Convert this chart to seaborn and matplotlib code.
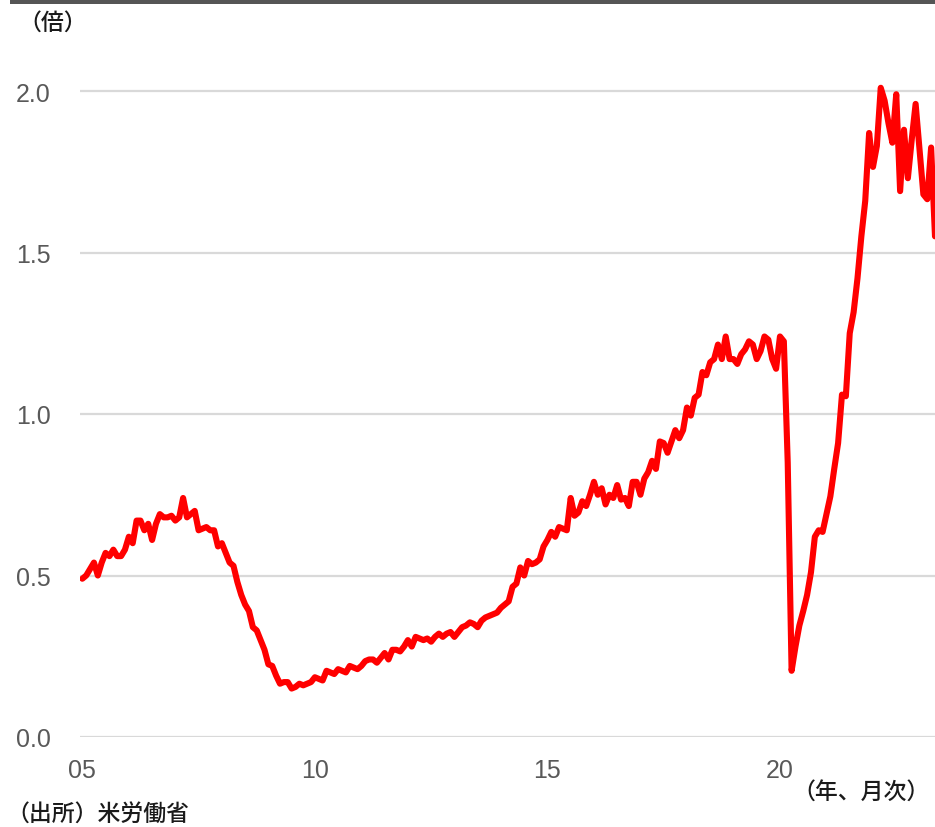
import numpy as np
import pandas as pd
import matplotlib
matplotlib.use("Agg")
import matplotlib.pyplot as plt
import seaborn as sns
from matplotlib.patches import Rectangle

# monthly job openings / unemployed ratio, Jan 2005 - May 2023
ratio_2005 = [0.49, 0.50, 0.52, 0.54, 0.50, 0.54, 0.57, 0.56, 0.58, 0.56, 0.56, 0.58]
ratio_2006 = [0.62, 0.60, 0.67, 0.67, 0.64, 0.66, 0.61, 0.66, 0.69, 0.68, 0.68, 0.685]
ratio_2007 = [0.67, 0.68, 0.74, 0.68, 0.69, 0.70, 0.64, 0.645, 0.65, 0.64, 0.64, 0.59]
ratio_2008 = [0.60, 0.57, 0.54, 0.53, 0.48, 0.44, 0.41, 0.39, 0.34, 0.33, 0.30, 0.27]
ratio_2009 = [0.225, 0.22, 0.19, 0.165, 0.17, 0.17, 0.15, 0.155, 0.165, 0.16, 0.165, 0.17]
ratio_2010 = [0.185, 0.18, 0.175, 0.205, 0.20, 0.195, 0.21, 0.205, 0.20, 0.22, 0.215, 0.21]
ratio_2011 = [0.22, 0.235, 0.24, 0.24, 0.23, 0.245, 0.26, 0.24, 0.27, 0.27, 0.265, 0.28]
ratio_2012 = [0.30, 0.28, 0.31, 0.305, 0.30, 0.305, 0.295, 0.31, 0.32, 0.31, 0.32, 0.325]
ratio_2013 = [0.31, 0.325, 0.34, 0.345, 0.355, 0.35, 0.34, 0.36, 0.37, 0.375, 0.38, 0.385]
ratio_2014 = [0.40, 0.41, 0.42, 0.465, 0.475, 0.525, 0.50, 0.545, 0.535, 0.54, 0.55, 0.59]
ratio_2015 = [0.61, 0.635, 0.62, 0.65, 0.645, 0.64, 0.74, 0.685, 0.695, 0.73, 0.715, 0.75]
ratio_2016 = [0.79, 0.75, 0.77, 0.72, 0.75, 0.74, 0.78, 0.735, 0.74, 0.715, 0.79, 0.79]
ratio_2017 = [0.75, 0.80, 0.82, 0.855, 0.83, 0.915, 0.91, 0.88, 0.915, 0.95, 0.925, 0.95]
ratio_2018 = [1.02, 0.995, 1.05, 1.06, 1.13, 1.12, 1.16, 1.17, 1.215, 1.17, 1.24, 1.17]
ratio_2019 = [1.17, 1.155, 1.185, 1.20, 1.225, 1.215, 1.17, 1.195, 1.24, 1.23, 1.17, 1.14]
ratio_2020 = [1.24, 1.225, 0.85, 0.205, 0.28, 0.345, 0.39, 0.44, 0.51, 0.62, 0.64, 0.635]
ratio_2021 = [0.69, 0.745, 0.83, 0.91, 1.06, 1.055, 1.25, 1.315, 1.42, 1.55, 1.66, 1.87]
ratio_2022 = [1.765, 1.83, 2.01, 1.97, 1.90, 1.84, 1.99, 1.69, 1.88, 1.73, 1.85, 1.96]
ratio_2023 = [1.82, 1.68, 1.665, 1.825, 1.55]

yticks = [0.0, 0.5, 1.0, 1.5, 2.0]
xticks = [2005, 2010, 2015, 2020]
xticklabels = ["05", "10", "15", "20"]

values = (ratio_2005 + ratio_2006 + ratio_2007 + ratio_2008 + ratio_2009 + ratio_2010
          + ratio_2011 + ratio_2012 + ratio_2013 + ratio_2014 + ratio_2015 + ratio_2016
          + ratio_2017 + ratio_2018 + ratio_2019 + ratio_2020 + ratio_2021 + ratio_2022
          + ratio_2023)
df = pd.DataFrame({"year": 2005 + np.arange(len(values)) / 12, "ratio": values})

sns.set_style("white")
plt.rcParams["font.family"] = ["Liberation Sans", "Noto Sans CJK JP", "DejaVu Sans"]

W, H = 935, 828
fig = plt.figure(figsize=(W / 100, H / 100), dpi=100)
ax = fig.add_axes([80 / W, (H - 738) / H, 855 / W, 662.15 / H])

sns.lineplot(data=df, x="year", y="ratio", color="#ff0000", lw=4.4, ax=ax)

ax.set_xlim(2004.95, df["year"].iloc[-1])
ax.set_ylim(0, 2.05)
ax.set_yticks(yticks)
ax.set_yticklabels([f"{t:.1f}" for t in yticks])
ax.set_xticks(xticks)
ax.set_xticklabels(xticklabels)
ax.tick_params(axis="y", length=0, pad=21, labelsize=18, labelcolor="#595959")
ax.tick_params(axis="x", length=0, pad=15, labelsize=18, labelcolor="#595959")
ax.yaxis.grid(True, color="#d9d9d9", lw=1.6)
ax.xaxis.grid(False)
ax.set_axisbelow(True)
ax.set_xlabel("")
ax.set_ylabel("")
for s in ax.spines.values():
    s.set_visible(False)

# dark band at the top
fig.add_artist(Rectangle((10 / W, 1 - 5 / H), 1, 5 / H, transform=fig.transFigure,
                         color="#555555", lw=0))

jp = dict(fontsize=16.5, fontweight="medium", va="center", color="#1a1a1a")
fig.text(18 / W, 1 - 23 / H, "（倍）", ha="left", **jp)
fig.text(930 / W, 1 - 793 / H, "（年、月次）", ha="right", **jp)
fig.text(6 / W, 1 - 815 / H, "（出所）米労働省", ha="left", **jp)

fig.savefig("out.png", dpi=100)
